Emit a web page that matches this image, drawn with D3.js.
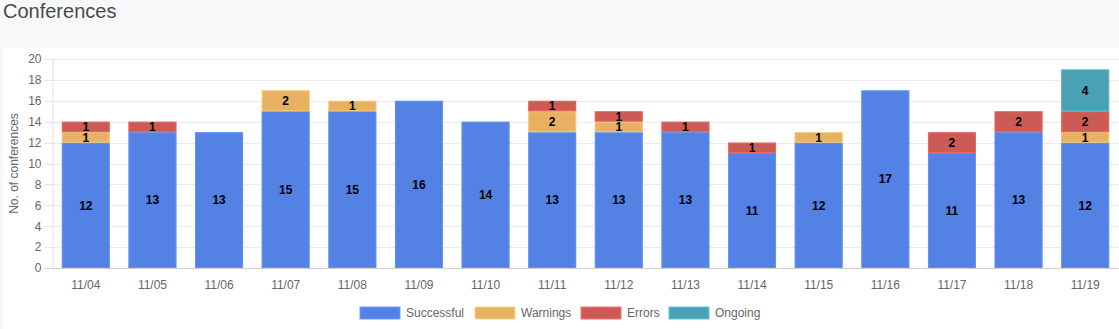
<!DOCTYPE html>
<html><head><meta charset="utf-8">
<script src="https://cdn.jsdelivr.net/npm/d3@7"></script>
<style>
html,body{margin:0;padding:0;background:#f7f8fa;}
svg{display:block;}
</style></head>
<body>
<svg id="chart" width="1119" height="329"></svg>
<script>
const categories = ["11/04","11/05","11/06","11/07","11/08","11/09","11/10","11/11","11/12","11/13","11/14","11/15","11/16","11/17","11/18","11/19"];
const successful = [12,13,13,15,15,16,14,13,13,13,11,12,17,11,13,12];
const warnings   = [1,0,0,2,1,0,0,2,1,0,0,1,0,0,0,1];
const errors     = [1,1,0,0,0,0,0,1,1,1,1,0,0,2,2,2];
const ongoing    = [0,0,0,0,0,0,0,0,0,0,0,0,0,0,0,4];
const seriesNames = ["Successful","Warnings","Errors","Ongoing"];
const seriesColors = ["#5381e4","#e8b062","#cc5b55","#4aa0b4"];
const yTicks = [0,2,4,6,8,10,12,14,16,18,20];

(function(){
const svg = d3.select("#chart");
const font = "'Liberation Sans', Arial, Helvetica, sans-serif";

svg.append("text").attr("x",3).attr("y",18).attr("font-family",font)
  .attr("font-size",20).attr("fill","#4a4a4a").text("Conferences");

svg.append("rect").attr("x",3).attr("y",48).attr("width",1116).attr("height",281).attr("fill","#fff");

const pl = 52.5, pr = 1118.5, pt = 59, pb = 268;
const x = d3.scaleBand().domain(categories).range([pl,pr]).paddingInner(0.28).paddingOuter(0.14);
const y = d3.scaleLinear().domain([0,20]).range([pb, pt]);

const grid = svg.append("g");
grid.selectAll("line").data(yTicks.filter(d=>d>0)).join("line")
  .attr("x1",pl-8).attr("x2",pr).attr("y1",d=>Math.round(y(d))+0.5).attr("y2",d=>Math.round(y(d))+0.5)
  .attr("stroke","#ebebeb").attr("stroke-width",1);

const yAxis = svg.append("g").attr("transform",`translate(${pl},0)`)
  .call(d3.axisLeft(y).tickValues(yTicks).tickSize(8).tickPadding(3));
yAxis.select(".domain").attr("stroke","#e0e0e0").attr("d",`M0.5,${pt}V${pb}`);
yAxis.selectAll(".tick line").attr("stroke","#e6e6e6");
yAxis.selectAll(".tick text").attr("font-family",font).attr("font-size",12).attr("fill","#666");

const xAxis = svg.append("g").attr("transform",`translate(0,${pb})`)
  .call(d3.axisBottom(x).tickSize(0).tickPadding(12));
xAxis.select(".domain").attr("stroke","#d0d0d0").attr("d",`M${pl-8},0.5H${pr}`);
xAxis.selectAll(".tick text").attr("font-family",font).attr("font-size",12).attr("fill","#666");

svg.append("text").attr("transform",`translate(18,${(pt+pb)/2}) rotate(-90)`)
  .attr("text-anchor","middle").attr("font-family",font).attr("font-size",12).attr("fill","#666")
  .text("No. of conferences");

const rows = categories.map((c,i)=>({cat:c, Successful:successful[i], Warnings:warnings[i], Errors:errors[i], Ongoing:ongoing[i]}));
const stacked = d3.stack().keys(seriesNames)(rows);

const bars = svg.append("g");
stacked.forEach((s,si)=>{
  const g = bars.append("g");
  s.forEach((d,i)=>{
    const v = d[1]-d[0];
    if(v<=0) return;
    const x0 = x(categories[i]), w = x.bandwidth();
    const y0 = y(d[1]), h = y(d[0])-y(d[1]);
    g.append("rect").attr("x",x0).attr("y",y0).attr("width",w).attr("height",h)
      .attr("fill",seriesColors[si]);
    g.append("rect").attr("x",x0+0.5).attr("y",y0+0.5).attr("width",w-1).attr("height",h-1)
      .attr("fill","none").attr("stroke",d3.color(seriesColors[si]).brighter(0.6)).attr("stroke-opacity",0.6);
  });
});
stacked.forEach((s,si)=>{
  s.forEach((d,i)=>{
    const v = d[1]-d[0];
    if(v<=0) return;
    svg.append("text").attr("x",x(categories[i])+x.bandwidth()/2).attr("y",(y(d[0])+y(d[1]))/2)
      .attr("dy","0.36em").attr("text-anchor","middle").attr("font-family",font)
      .attr("font-size",12).attr("font-weight","bold").attr("fill","#000").text(v);
  });
});

const legend = svg.append("g");
const legX = [360,475,581,669];
seriesNames.forEach((n,i)=>{
  legend.append("rect").attr("x",legX[i]).attr("y",307).attr("width",40).attr("height",12)
    .attr("fill",seriesColors[i]).attr("stroke",d3.color(seriesColors[i]).brighter(0.6)).attr("stroke-width",1);
  legend.append("text").attr("x",legX[i]+46).attr("y",313).attr("dy","0.36em")
    .attr("font-family",font).attr("font-size",12).attr("fill","#666").text(n);
});
})();
</script>
</body></html>
